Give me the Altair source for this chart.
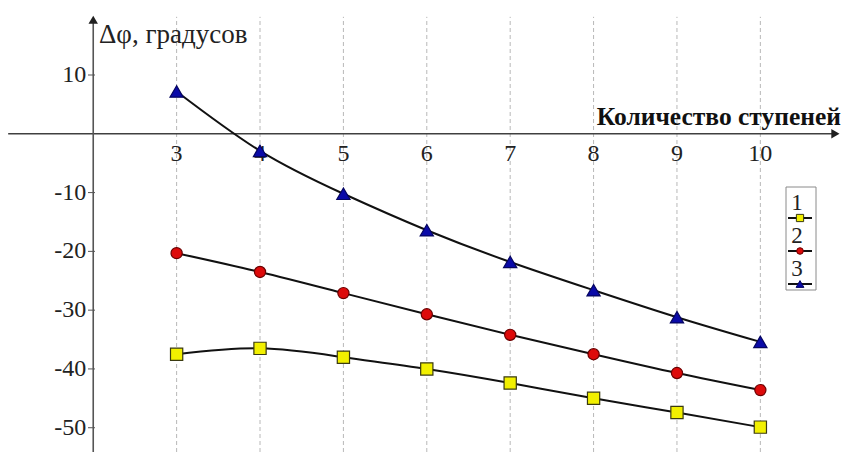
import altair as alt
import pandas as pd

# Number of stages and phase shift (degrees) for the three variants
steps = [3, 4, 5, 6, 7, 8, 9, 10]
series_1 = [-37.5, -36.5, -38.0, -40.0, -42.4, -45.0, -47.4, -49.9]
series_2 = [-20.3, -23.5, -27.1, -30.7, -34.2, -37.5, -40.7, -43.6]
series_3 = [7.2, -2.9, -10.2, -16.4, -21.8, -26.6, -31.2, -35.4]
series_names = ["1", "2", "3"]

y_tick_values = [10, -10, -20, -30, -40, -50]
x_tick_values = steps

x_title = "Количество ступеней"
y_title = "Δφ, градусов"

# Extents of the drawn axes (data units)
X_DOMAIN = [0.882, 11.003]
Y_DOMAIN = [-54.13, 22.76]
X_AXIS_FROM, X_AXIS_TO = 0.98, 10.9
Y_AXIS_AT = 2
Y_AXIS_TOP = 19.4
GRID_TOP = 19.9

FONT = "Liberation Serif"
W, H = 844, 452

markers = {"1": "square", "2": "circle", "3": "triangle-up"}
fills = {"1": "#f2f000", "2": "#dd0a0a", "3": "#0a0aa8"}
strokes = {"1": "#3a3a10", "2": "#6a0000", "3": "#050560"}
sizes = {"1": 150, "2": 125, "3": 175}

rows = []
for name, vals in zip(series_names, [series_1, series_2, series_3]):
    for s, v in zip(steps, vals):
        rows.append({"series": name, "x": s, "y": v})
data = pd.DataFrame(rows)

xs = alt.Scale(domain=X_DOMAIN, nice=False, zero=False)
ys = alt.Scale(domain=Y_DOMAIN, nice=False, zero=False)


def X(field="x"):
    return alt.X(f"{field}:Q", scale=xs, axis=None)


def Y(field="y"):
    return alt.Y(f"{field}:Q", scale=ys, axis=None)


# vertical dashed grid
grid = alt.Chart(pd.DataFrame({"x": x_tick_values, "y": Y_DOMAIN[0], "y2": GRID_TOP})).mark_rule(
    color="#b8b8b8", strokeWidth=1, strokeDash=[4, 3]
).encode(x=X(), y=Y(), y2="y2:Q")

# x axis through zero with arrow
x_axis = alt.Chart(pd.DataFrame({"x": [X_AXIS_FROM], "x2": [X_AXIS_TO], "y": [0]})).mark_rule(
    color="#404040", strokeWidth=1.6
).encode(x=X(), x2="x2:Q", y=Y())
x_arrow = alt.Chart(pd.DataFrame({"x": [X_AXIS_TO], "y": [0]})).mark_point(
    shape="triangle-right", filled=True, color="#202020", size=90, opacity=1
).encode(x=X(), y=Y())

# y axis at x = 2 with arrow
y_axis = alt.Chart(pd.DataFrame({"x": [Y_AXIS_AT], "y": [Y_DOMAIN[0]], "y2": [Y_AXIS_TOP]})).mark_rule(
    color="#555555", strokeWidth=1.6
).encode(x=X(), y=Y(), y2="y2:Q")
y_arrow = alt.Chart(pd.DataFrame({"x": [Y_AXIS_AT], "y": [Y_AXIS_TOP]})).mark_point(
    shape="triangle-up", filled=True, color="#202020", size=90, opacity=1
).encode(x=X(), y=Y())

tick_df = pd.DataFrame({"x": Y_AXIS_AT, "y": y_tick_values, "label": [str(v) for v in y_tick_values]})
y_ticks = alt.Chart(tick_df).mark_rule(color="#555555", strokeWidth=1).encode(
    x=alt.value(88), x2=alt.value(95), y=Y()
)
y_labels = alt.Chart(tick_df).mark_text(
    font=FONT, fontSize=24, align="right", baseline="middle", dx=-7, color="#222222"
).encode(x=X(), y=Y(), text="label:N")

x_label_df = pd.DataFrame({"x": x_tick_values, "y": 0, "label": [str(v) for v in x_tick_values]})
x_labels = alt.Chart(x_label_df).mark_text(
    font=FONT, fontSize=24, align="center", baseline="alphabetic", dy=27, color="#222222"
).encode(x=X(), y=Y(), text="label:N")

one = pd.DataFrame({"k": [0]})
x_title_mark = alt.Chart(one).mark_text(
    text=x_title, font=FONT, fontSize=25.5, fontWeight="bold", align="right", baseline="alphabetic", color="#111111"
).encode(x=alt.value(841), y=alt.value(125))
y_title_mark = alt.Chart(one).mark_text(
    text=y_title, font=FONT, fontSize=27, align="left", baseline="alphabetic", color="#222222"
).encode(x=alt.value(99), y=alt.value(43))

# smooth curves through the points
lines = alt.Chart(data).mark_line(color="#111111", strokeWidth=2, interpolate="natural").encode(
    x=X(), y=Y(), detail="series:N"
)

point_layers = []
for name in series_names:
    point_layers.append(
        alt.Chart(data[data.series == name]).mark_point(
            shape=markers[name], filled=True, fill=fills[name], stroke=strokes[name],
            strokeWidth=1.2, size=sizes[name], opacity=1
        ).encode(x=X(), y=Y())
    )

# legend box: label above a short line with the marker
legend_layers = [
    alt.Chart(one).mark_rect(fill="white", stroke="#8a8a8a", strokeWidth=1).encode(
        x=alt.value(786), x2=alt.value(816), y=alt.value(187), y2=alt.value(290)
    )
]
for i, name in enumerate(series_names):
    top = 203 + 33 * i
    legend_layers.append(
        alt.Chart(one).mark_text(text=name, font=FONT, fontSize=23, align="center", baseline="middle",
                                 color="#222222").encode(x=alt.value(797), y=alt.value(top))
    )
    legend_layers.append(
        alt.Chart(one).mark_rule(color="#111111", strokeWidth=2).encode(
            x=alt.value(788), x2=alt.value(812), y=alt.value(top + 15)
        )
    )
    legend_layers.append(
        alt.Chart(one).mark_point(shape=markers[name], filled=True, fill=fills[name], stroke=strokes[name],
                                  strokeWidth=1, size=sizes[name] * 0.35, opacity=1).encode(
            x=alt.value(800), y=alt.value(top + 15)
        )
    )

chart = alt.layer(
    grid, x_axis, x_arrow, y_axis, y_arrow, y_ticks, y_labels, x_labels,
    x_title_mark, y_title_mark, lines, *point_layers, *legend_layers
).properties(
    width=W, height=H, padding=0, autosize=alt.AutoSizeParams(type="none"), background="white"
).configure_view(stroke=None)

chart.save("out.html", embed_options={"renderer": "svg", "actions": False})
